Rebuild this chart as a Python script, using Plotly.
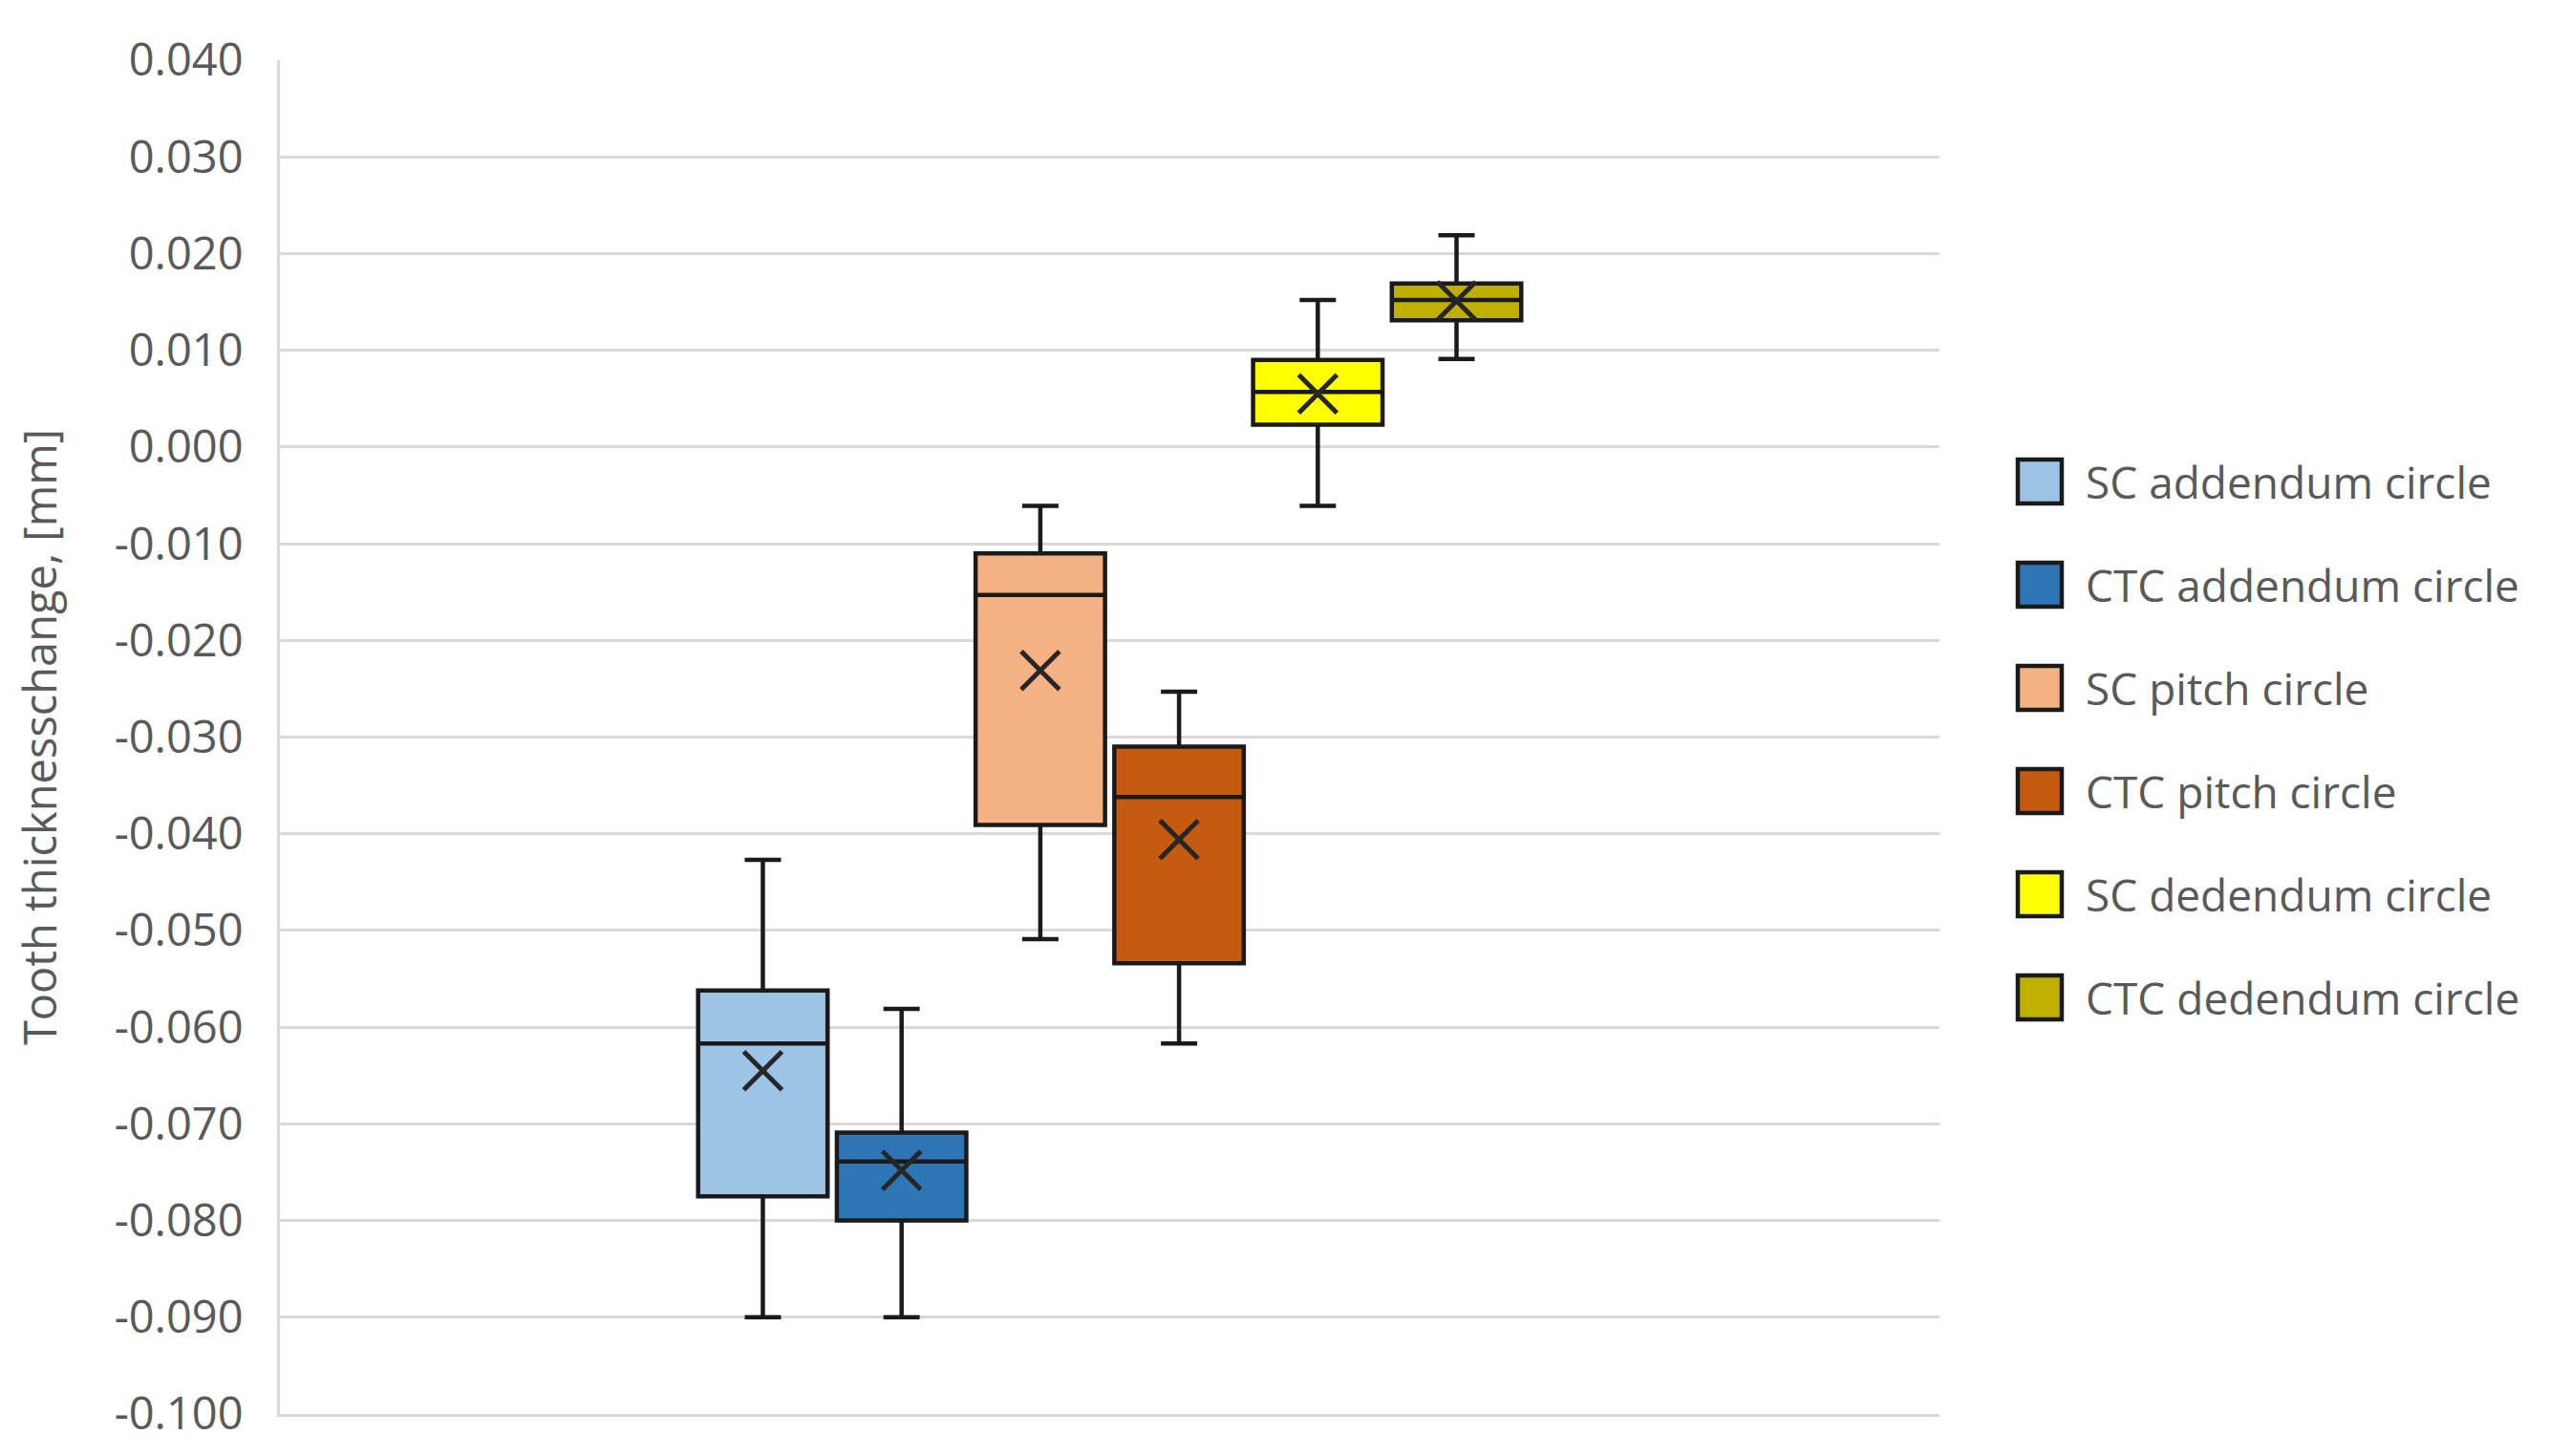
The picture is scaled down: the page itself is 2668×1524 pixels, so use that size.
import plotly.graph_objects as go

# ---- data ----
series = ["SC addendum circle", "CTC addendum circle", "SC pitch circle",
          "CTC pitch circle", "SC dedendum circle", "CTC dedendum circle"]
lower_whisker = [-0.0900, -0.0900, -0.0509, -0.0617, -0.0061, 0.0091]
q1 = [-0.0775, -0.0800, -0.0391, -0.0534, 0.0023, 0.0131]
median = [-0.0617, -0.0739, -0.0153, -0.0362, 0.0057, 0.0152]
q3 = [-0.0562, -0.0709, -0.0110, -0.0310, 0.0090, 0.0169]
upper_whisker = [-0.0427, -0.0581, -0.0061, -0.0253, 0.0152, 0.0219]
mean = [-0.0645, -0.0748, -0.0231, -0.0406, 0.0055, 0.0151]
colors = ["#9DC3E6", "#2E75B6", "#F4B183", "#C55A11", "#FFFF00", "#BFB000"]
tick_values = [0.040, 0.030, 0.020, 0.010, 0.000, -0.010, -0.020, -0.030,
               -0.040, -0.050, -0.060, -0.070, -0.080, -0.090, -0.100]
tick_labels = ["0.040", "0.030", "0.020", "0.010", "0.000", "-0.010", "-0.020",
               "-0.030", "-0.040", "-0.050", "-0.060", "-0.070", "-0.080",
               "-0.090", "-0.100"]
y_title = "Tooth thicknesschange, [mm]"

# ---- styling ----
FONT = "Open Sans"
TEXT = "#595959"
GRID = "#d9d9d9"
EDGE = "#1a1a1a"
n = len(series)
slot = 0.0836
box_w = 0.078
positions = [(i - (n - 1) / 2) * slot for i in range(n)]

fig = go.Figure()
for i, name in enumerate(series):
    fig.add_trace(go.Box(
        name=name, x=[positions[i]], q1=[q1[i]], median=[median[i]], q3=[q3[i]],
        lowerfence=[lower_whisker[i]], upperfence=[upper_whisker[i]],
        orientation="v", width=box_w, boxpoints=False, whiskerwidth=0.28,
        fillcolor=colors[i], line=dict(color=EDGE, width=4.5),
        showlegend=False, hoverinfo="name+y",
    ))

fig.add_trace(go.Scatter(
    x=positions, y=mean, mode="markers", showlegend=False, name="mean",
    marker=dict(symbol="x-thin", size=40, color="#262626",
                line=dict(width=5, color="#262626")),
))

# custom legend (large square swatches like the original)
leg_x_sw = (2112 - 293) / 1737
leg_x_txt = (2181 - 293) / 1737
leg_y0 = (1480 - 504) / 1417
leg_dy = 108 / 1417
shapes, annotations = [], []
for i, name in enumerate(series):
    yc = leg_y0 - i * leg_dy
    shapes.append(dict(
        type="rect", xref="paper", yref="paper",
        xsizemode="pixel", ysizemode="pixel",
        xanchor=leg_x_sw, yanchor=yc, x0=0, x1=46, y0=-23, y1=23,
        fillcolor=colors[i], line=dict(color=EDGE, width=4.5),
    ))
    annotations.append(dict(
        xref="paper", yref="paper", x=leg_x_txt, y=yc, text=name,
        showarrow=False, xanchor="left", yanchor="middle",
        font=dict(family=FONT, size=46, color=TEXT),
    ))

fig.update_layout(
    width=2668, height=1524,
    margin=dict(l=293, r=638, t=63, b=44),
    paper_bgcolor="white", plot_bgcolor="white",
    showlegend=False, boxmode="overlay",
    font=dict(family=FONT, size=44, color=TEXT),
    shapes=shapes, annotations=annotations,
    xaxis=dict(range=[-0.5, 0.5], showgrid=False, showticklabels=False,
               zeroline=False, showline=True, linecolor=GRID, linewidth=3,
               ticks=""),
    yaxis=dict(range=[-0.100, 0.040], tickvals=tick_values, ticktext=tick_labels,
               showgrid=True, gridcolor=GRID, gridwidth=2.5, zeroline=False,
               showline=True, linecolor=GRID, linewidth=3, ticks="",
               ticklabelstandoff=26,
               tickfont=dict(family=FONT, size=47, color=TEXT),
               title=dict(text=y_title, standoff=46,
                          font=dict(family=FONT, size=47, color=TEXT))),
)

fig.write_html("out.html", config={"displayModeBar": False},
               post_script="document.body.style.margin='0';")
